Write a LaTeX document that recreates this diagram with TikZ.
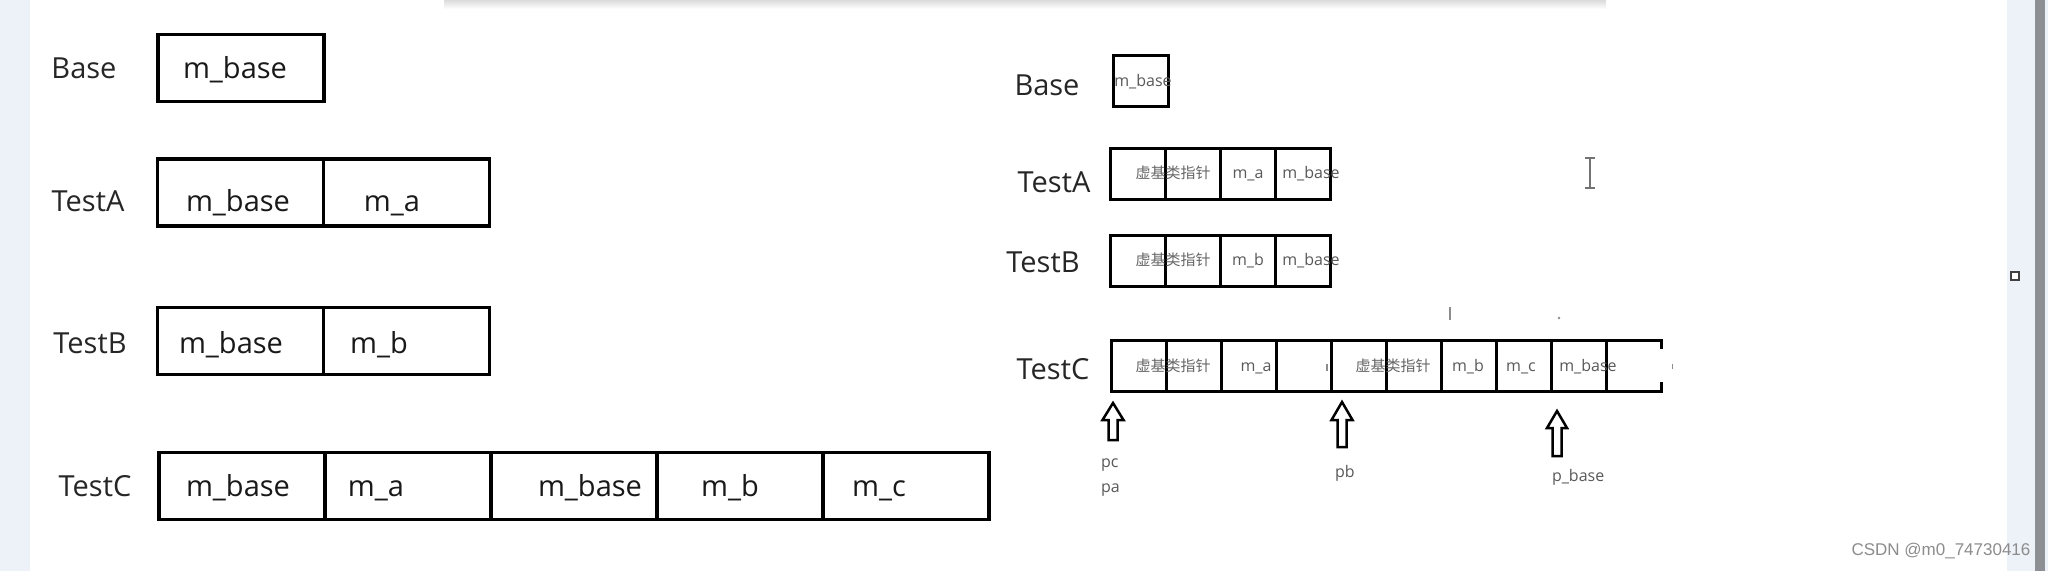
\documentclass[tikz,border=0pt]{standalone}
\usepackage{fontspec}
\setmainfont{Open Sans}
\newfontfamily\cjk{Noto Sans CJK SC}
\newfontfamily\wmfont{Liberation Sans}
\definecolor{bandc}{HTML}{EDF2F9}
\definecolor{edgec}{HTML}{8C8F94}
\begin{document}
\begin{tikzpicture}[x=1pt,y=-1pt,
  every node/.style={inner sep=0pt, outer sep=0pt},
  bigbox/.style={draw=black, line width=3.2pt, minimum width=166pt, minimum height=67pt},
  smallbox/.style={draw=black, line width=3pt, minimum width=55pt, minimum height=51pt},
  lbl/.style={font=\fontsize{29}{30}\selectfont, text=black!85, anchor=base},
  bigtxt/.style={font=\fontsize{29}{30}\selectfont, text=black!90, anchor=base},
  smtxt/.style={font=\fontsize{16}{17}\selectfont, text=black!65, anchor=base},
  cjktxt/.style={font=\cjk\fontsize{15}{16}\selectfont, text=black!60, anchor=base},
  ptr/.style={font=\fontsize{16}{17}\selectfont, text=black!65, anchor=base west},
  blockar/.style={draw=black, line width=2.5pt, fill=white, line join=miter},
  stray/.style={draw=black!45, line width=1.6pt}
]
\useasboundingbox (0,0) rectangle (2048,571);
% screenshot background
\fill[white] (0,0) rectangle (2048,571);
\fill[bandc] (0,0) rectangle (30,571);
\fill[bandc] (2007,0) rectangle (2048,571);
\fill[edgec] (2035,0) rectangle (2045,571);
\shade[top color=black!14, bottom color=white] (444,0) rectangle (1606,9);
\node[draw=black!75, line width=2pt, fill=white, minimum width=8pt, minimum height=8pt] (sq) at (2015,276) {};

% ---------------- left diagram ----------------
\node[lbl] (lbase) at (84,78) {Base};
\node[bigbox] (bbase) at (241,68) {};
\node[bigtxt] (tbase) at (235,78) {m\_base};

\node[lbl] (ltesta) at (88,211) {TestA};
\node[bigbox] (a1) at (240.5,192.5) {};
\node[bigbox, anchor=west] (a2) at (a1.east) {};
\node[bigtxt] (ta1) at (238,211) {m\_base};
\node[bigtxt] (ta2) at (392,211) {m\_a};

\node[lbl] (ltestb) at (90,353) {TestB};
\node[bigbox] (b1) at (240.5,341) {};
\node[bigbox, anchor=west] (b2) at (b1.east) {};
\node[bigtxt] (tb1) at (231,353) {m\_base};
\node[bigtxt] (tb2) at (379,353) {m\_b};

\node[lbl] (ltestc) at (95,496) {TestC};
\node[bigbox] (c1) at (242,486) {};
\node[bigbox, anchor=west] (c2) at (c1.east) {};
\node[bigbox, anchor=west] (c3) at (c2.east) {};
\node[bigbox, anchor=west] (c4) at (c3.east) {};
\node[bigbox, anchor=west] (c5) at (c4.east) {};
\node[bigtxt] (tc1) at (238,496) {m\_base};
\node[bigtxt] (tc2) at (376,496) {m\_a};
\node[bigtxt] (tc3) at (590,496) {m\_base};
\node[bigtxt] (tc4) at (730,496) {m\_b};
\node[bigtxt] (tc5) at (879,496) {m\_c};

% ---------------- right diagram ----------------
\node[lbl] (rlbase) at (1047,95) {Base};
\node[smallbox] (rbase) at (1140.5,80.5) {};
\node[smtxt] (rtbase) at (1143,86) {m\_base};

\node[lbl] (rltesta) at (1054,192) {TestA};
\node[smallbox] (ra1) at (1137.5,173.5) {};
\node[smallbox, anchor=west] (ra2) at (ra1.east) {};
\node[smallbox, anchor=west] (ra3) at (ra2.east) {};
\node[smallbox, anchor=west] (ra4) at (ra3.east) {};
\node[cjktxt] (rta1) at (1173,178) {虚基类指针};
\node[smtxt] (rta3) at (1248,178) {m\_a};
\node[smtxt] (rta4) at (1311,178) {m\_base};

\node[lbl] (rltestb) at (1043,272) {TestB};
\node[smallbox] (rb1) at (1137.5,260.5) {};
\node[smallbox, anchor=west] (rb2) at (rb1.east) {};
\node[smallbox, anchor=west] (rb3) at (rb2.east) {};
\node[smallbox, anchor=west] (rb4) at (rb3.east) {};
\node[cjktxt] (rtb1) at (1173,265) {虚基类指针};
\node[smtxt] (rtb3) at (1248,265) {m\_b};
\node[smtxt] (rtb4) at (1311,265) {m\_base};

\node[lbl] (rltestc) at (1053,379) {TestC};
\node[smallbox] (rc1) at (1138.5,365.5) {};
\node[smallbox, anchor=west] (rc2) at (rc1.east) {};
\node[smallbox, anchor=west] (rc3) at (rc2.east) {};
\node[smallbox, anchor=west] (rc4) at (rc3.east) {};
\node[smallbox, anchor=west] (rc5) at (rc4.east) {};
\node[smallbox, anchor=west] (rc6) at (rc5.east) {};
\node[smallbox, anchor=west] (rc7) at (rc6.east) {};
\node[smallbox, anchor=west] (rc8) at (rc7.east) {};
\node[smallbox, anchor=west] (rc9) at (rc8.east) {};
\node[smallbox, draw=none, anchor=west] (rc10) at (rc9.east) {};
\draw[line width=3pt] (rc10.north west) -- (rc10.north east) -- ++(0,9);
\draw[line width=3pt] (rc10.south west) -- (rc10.south east) -- ++(0,-9);
\node[cjktxt] (rtc1) at (1173,371) {虚基类指针};
\node[smtxt] (rtc3) at (1256,371) {m\_a};
\node[cjktxt] (rtc5) at (1393,371) {虚基类指针};
\node[smtxt] (rtc7) at (1468,371) {m\_b};
\node[smtxt] (rtc8) at (1521,371) {m\_c};
\node[smtxt] (rtc9) at (1588,371) {m\_base};

% pointer arrows
\coordinate (tpa) at (1113,403);
\coordinate (tpb) at (1342,402);
\coordinate (tpbase) at (1557,411);
\draw[blockar] (tpa) -- ++(10.5,17) -- ++(-6,0) -- ++(0,20) -- ++(-9,0) -- ++(0,-20) -- ++(-6,0) -- cycle;
\draw[blockar] (tpb) -- ++(10.5,18) -- ++(-6,0) -- ++(0,27) -- ++(-9,0) -- ++(0,-27) -- ++(-6,0) -- cycle;
\draw[blockar] (tpbase) -- ++(10,17) -- ++(-5.5,0) -- ++(0,28) -- ++(-9,0) -- ++(0,-28) -- ++(-5.5,0) -- cycle;
\node[ptr] (lpc) at (1101,467) {pc};
\node[ptr] (lpa) at (1101,492) {pa};
\node[ptr] (lpb) at (1335,477) {pb};
\node[ptr] (lpbase) at (1552,481) {p\_base};

% stray screen marks and cursor
\draw[stray] (1450,307) -- (1450,320);
\fill[black!45] (1559,318) circle (1.3);
\draw[stray, line width=1.2pt] (1327,364) -- (1327,371);
\draw[stray, line width=1pt] (1672,364) -- (1672,369);
\draw[black!55, line width=1.4pt] (1590,158) -- (1590,188)
  (1585,158) -- (1595,158) (1585,188) -- (1595,188);

% watermark
\node[font=\wmfont\fontsize{17}{18}\selectfont, text=black!45] (wm) at (1941,551) {CSDN @m0\_74730416};
\end{tikzpicture}
\end{document}
